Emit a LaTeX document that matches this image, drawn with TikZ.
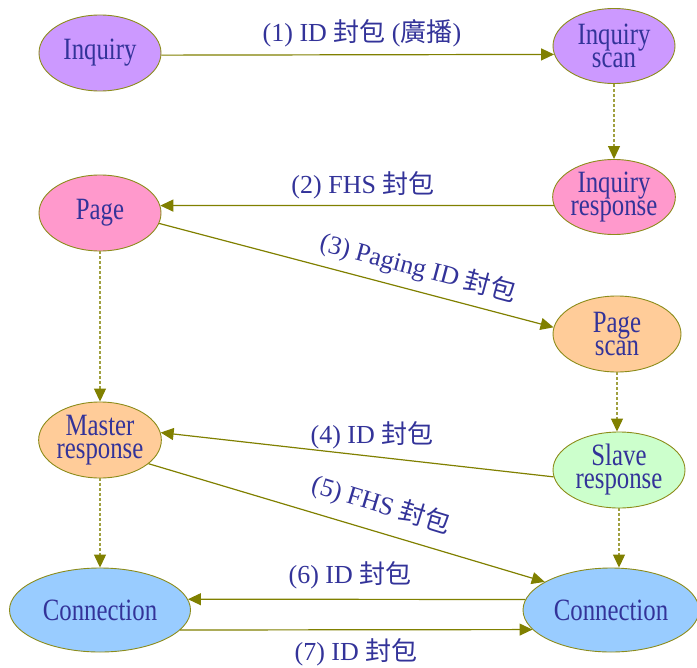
\documentclass[tikz,border=0pt]{standalone}
\usepackage{fontspec}
\setmainfont[FakeStretch=0.8]{Liberation Serif}
\newfontfamily\lblfont{Liberation Serif}
\newfontfamily\cjk{Noto Sans CJK TC}
\usetikzlibrary{shapes.geometric,arrows.meta}
\definecolor{olv}{HTML}{808000}
\definecolor{olvd}{HTML}{A0A040}
\definecolor{rim}{HTML}{8C8C1A}
\definecolor{txt}{HTML}{333399}
\definecolor{cpurple}{HTML}{CC99FF}
\definecolor{cpink}{HTML}{FF99CC}
\definecolor{corange}{HTML}{FFCC99}
\definecolor{cgreen}{HTML}{CCFFCC}
\definecolor{cblue}{HTML}{99CCFF}
\begin{document}
\begin{tikzpicture}[x=1bp,y=-1bp,
  st/.style={ellipse, draw=rim, line width=0.9bp, inner sep=0pt, text=txt,
    font=\fontsize{31bp}{23bp}\selectfont, align=center},
  lbl/.style={text=txt, font=\lblfont\fontsize{26bp}{30bp}\selectfont, inner sep=0pt},
  msg/.style={draw=olv, line width=1.2bp, -{Triangle[length=13bp,width=12bp]}},
  flow/.style={draw=olvd, line width=1.2bp, dash pattern=on 3bp off 2bp,
    -{Triangle[length=13bp,width=12bp,fill=olv,color=olv]}}]
\useasboundingbox (0,0) rectangle (697,668);

\node[st, fill=cpurple, minimum width=122bp, minimum height=76bp] (inq) at (100,53) {Inquiry};
\node[st, fill=cpurple, minimum width=122bp, minimum height=75bp] (inqs) at (614,46) {Inquiry\\scan};
\node[st, fill=cpink, minimum width=122bp, minimum height=75bp] (inqr) at (614,197) {Inquiry\\response};
\node[st, fill=cpink, minimum width=122bp, minimum height=76bp] (page) at (100,213) {Page};
\node[st, fill=corange, minimum width=128bp, minimum height=76bp] (ps) at (617,334) {Page\\scan};
\node[st, fill=corange, minimum width=122bp, minimum height=76bp] (mr) at (100,440) {Master\\response};
\node[st, fill=cgreen, minimum width=132bp, minimum height=76bp] (sr) at (619,470) {Slave\\response};
\node[st, fill=cblue, minimum width=181bp, minimum height=84bp] (cl) at (100,610) {Connection};
\node[st, fill=cblue, minimum width=176bp, minimum height=84bp] (cr) at (611,610) {Connection};

\draw[msg] (inq.-2) -- (inqs.188);
\draw[msg] (inqr.188) -- (page.7);
\draw[msg] (page.-10) -- (ps.174);
\draw[msg] (sr.186) -- (mr.7);
\draw[msg] (mr.-26) -- (cr.157);
\draw[msg] (cr.173) -- (cl.7);
\draw[msg] (cl.-14) -- (cr.194);

\draw[flow] (inqs) -- (inqr);
\draw[flow] (page) -- (mr);
\draw[flow] (ps.south) -- (ps.south |- sr.north);
\draw[flow] (mr) -- (cl);
\draw[flow] (sr.south) -- (sr.south |- cr.north);

\node[lbl] (l1) at (362,33) {(1) ID {\cjk 封包} ({\cjk 廣播})};
\node[lbl] (l2) at (363,185) {(2) FHS {\cjk 封包}};
\node[lbl, rotate=-15] (l3) at (418,268) {(3) Paging ID {\cjk 封包}};
\node[lbl] (l4) at (372,435) {(4) ID {\cjk 封包}};
\node[lbl, rotate=-17] (l5) at (381,505) {(5) FHS {\cjk 封包}};
\node[lbl] (l6) at (350,575) {(6) ID {\cjk 封包}};
\node[lbl] (l7) at (356,652) {(7) ID {\cjk 封包}};
\end{tikzpicture}
\end{document}
